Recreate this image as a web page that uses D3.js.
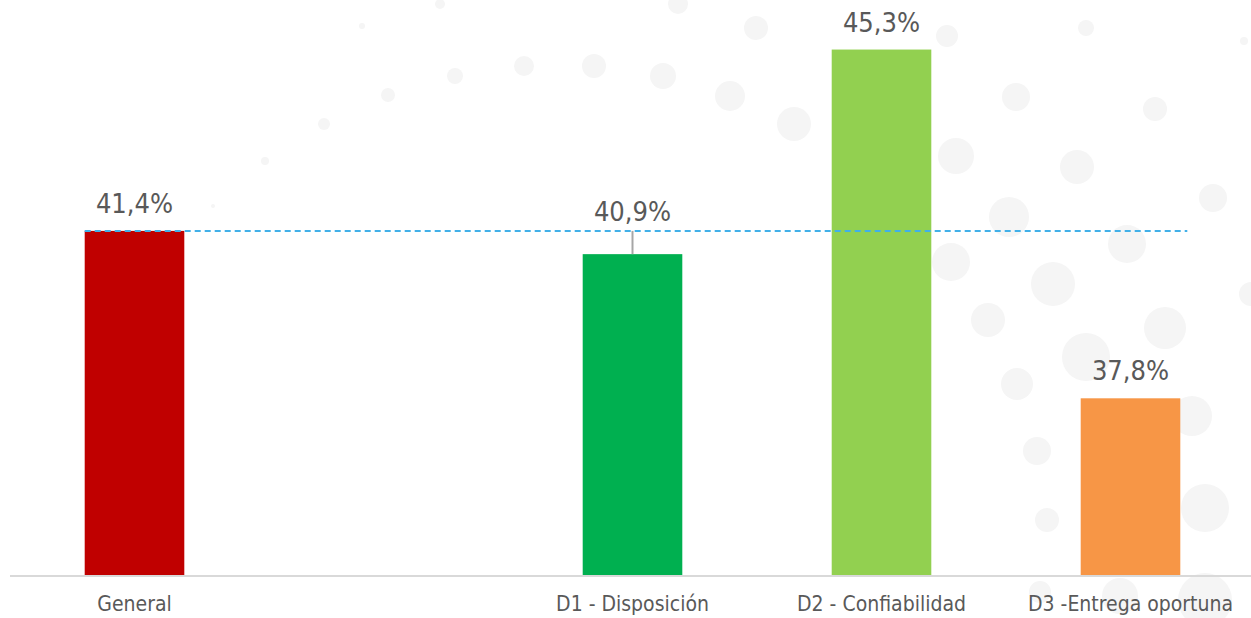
<!DOCTYPE html>
<html>
<head>
<meta charset="utf-8">
<script src="https://cdn.jsdelivr.net/npm/d3@7"></script>
<style>
  html, body { margin: 0; padding: 0; background: #fff; }
  svg { display: block; }
  text { font-family: "DejaVu Sans Condensed", "DejaVu Sans", sans-serif; fill: #595959; }
</style>
</head>
<body>
<svg width="1251" height="618"></svg>
<script>
// Data ======================================================
var categories = ["General", "", "D1 - Disposición", "D2 - Confiabilidad", "D3 -Entrega oportuna"];
var values     = [41.4, null, 40.9, 45.3, 37.8];
var colors     = ["#c00000", null, "#00b050", "#92d050", "#f79646"];
var generalValue = 41.4;

// background dots (decoration only)
var decor = [
  [440,4,5],[362,26,3],[213,206,2],[265,161,4],[324,124,6],[388,95,7],[455,76,8],
  [524,66,10],[594,66,12],[663,76,13],[730,96,15],[794,124,17],[678,4,10],[756,28,12],
  [947,36,11],[1086,28,8],[1244,41,4],[1016,97,14],[1155,109,12],[956,156,18],[1077,167,17],
  [1213,198,14],[1009,217,20],[1127,244,19],[951,262,19],[1053,284,22],[1251,294,12],
  [988,320,17],[1165,328,21],[1086,357,24],[1017,384,16],[1192,416,20],[1037,451,14],
  [1205,508,24],[1047,520,12],[1040,592,11],[1120,596,18],[1205,600,27]
];

// globals ===================================================
var svg = d3.select("svg"),
    width = +svg.attr("width"),
    height = +svg.attr("height");

var baseY = 575;

var x = d3.scaleBand()
    .domain(categories)
    .range([10, 1255])
    .paddingInner(0.6)
    .paddingOuter(0.3);

var y = d3.scaleLinear()
    .domain([34, 46.5])
    .range([baseY, baseY - 12.5 * 46.5]);

// decoration
svg.append("g").attr("class", "decor")
  .selectAll("circle")
  .data(decor)
  .enter().append("circle")
    .attr("cx", function(d) { return d[0]; })
    .attr("cy", function(d) { return d[1]; })
    .attr("r", function(d) { return d[2]; })
    .attr("fill", "#f5f5f5");

var rows = categories.map(function(c, i) {
  return { cat: c, value: values[i], color: colors[i] };
}).filter(function(d) { return d.value != null; });

// bars
svg.append("g").selectAll("rect")
  .data(rows)
  .enter().append("rect")
    .attr("x", function(d) { return x(d.cat); })
    .attr("y", function(d) { return y(d.value); })
    .attr("width", x.bandwidth())
    .attr("height", function(d) { return baseY - y(d.value); })
    .attr("fill", function(d) { return d.color; });

// reference line at the general value
svg.append("line")
    .attr("x1", x("General"))
    .attr("x2", x(categories[4]) + x.bandwidth() + 7)
    .attr("y1", y(generalValue))
    .attr("y2", y(generalValue))
    .attr("stroke", "#41b0e8")
    .attr("stroke-width", 2)
    .attr("stroke-dasharray", "6,4");

// leader lines for bars just below the reference line
svg.append("g").selectAll("line")
  .data(rows.filter(function(d) { return d.value < generalValue && d.cat != "General" && y(d.value) - y(generalValue) < 40; }))
  .enter().append("line")
    .attr("x1", function(d) { return x(d.cat) + x.bandwidth() / 2; })
    .attr("x2", function(d) { return x(d.cat) + x.bandwidth() / 2; })
    .attr("y1", function(d) { return y(d.value); })
    .attr("y2", y(generalValue))
    .attr("stroke", "#a6a6a6")
    .attr("stroke-width", 2);

// value labels
svg.append("g").selectAll("text")
  .data(rows)
  .enter().append("text")
    .attr("x", function(d) { return x(d.cat) + x.bandwidth() / 2; })
    .attr("y", function(d) {
      var top = y(d.value);
      if (d.cat != "General" && d.value < generalValue && top - y(generalValue) < 40)
        return y(generalValue) - 10;
      return top - 18;
    })
    .attr("text-anchor", "middle")
    .style("font-size", "27px")
    .text(function(d) { return d.value.toFixed(1).replace(".", ",") + "%"; });

// axis
var axis = svg.append("g")
    .attr("transform", "translate(0," + baseY + ")")
    .call(d3.axisBottom(x).tickSize(0).tickPadding(21));
axis.select(".domain").remove();
axis.selectAll("text")
    .style("font-size", "21px")
    .attr("font-family", null)
    .attr("fill", "#595959");
svg.append("line")
    .attr("x1", 10).attr("x2", width)
    .attr("y1", baseY + 1).attr("y2", baseY + 1)
    .attr("stroke", "#d9d9d9")
    .attr("stroke-width", 2);
</script>
</body>
</html>
